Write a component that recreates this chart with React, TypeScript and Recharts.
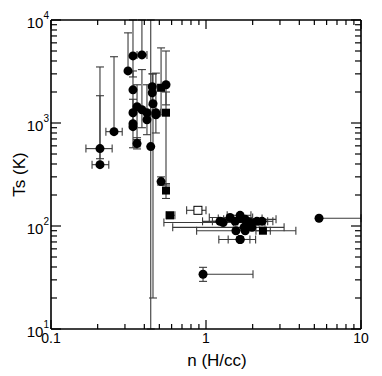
import React from 'react';
import { ScatterChart, Scatter, XAxis, YAxis, ErrorBar } from 'recharts';

type Pt = { x: number; y: number; xLo?: number; xHi?: number; yLo?: number; yHi?: number };

const xTicks = [0.1, 0.2, 0.3, 0.4, 0.5, 0.6, 0.7, 0.8, 0.9, 1, 2, 3, 4, 5, 6, 7, 8, 9, 10];
const xMajorTicks = [0.1, 1, 10];
const xMajorLabels = ['0.1', '1', '10'];
const yTicks = [10, 20, 30, 40, 50, 60, 70, 80, 90, 100, 200, 300, 400, 500, 600, 700, 800, 900, 1000, 2000, 3000, 4000, 5000, 6000, 7000, 8000, 9000, 10000];
const yMajorTicks = [10, 100, 1000, 10000];
const yMajorExponents = ['1', '2', '3', '4'];

// bounds beyond the frame are given as the frame value (10, 10000 or 10)
const filledCircles: Pt[] = [
  { x: 0.207, y: 564, xLo: 0.168, xHi: 0.248, yLo: 450, yHi: 3500 },
  { x: 0.207, y: 394, xLo: 0.184, xHi: 0.236, yLo: 394, yHi: 1840 },
  { x: 0.255, y: 824, xLo: 0.226, xHi: 0.288, yLo: 824, yHi: 4400 },
  { x: 0.314, y: 3206, yLo: 3206, yHi: 7500 },
  { x: 0.338, y: 4484, yLo: 2800, yHi: 10000 },
  { x: 0.386, y: 4583, xLo: 0.359, xHi: 0.416, yLo: 4583, yHi: 10000 },
  { x: 0.338, y: 2100, yLo: 1300, yHi: 3200 },
  { x: 0.338, y: 1259, yLo: 950, yHi: 1700 },
  { x: 0.338, y: 985 },
  { x: 0.338, y: 921, yLo: 575, yHi: 1300 },
  { x: 0.359, y: 1439, yLo: 690, yHi: 2350 },
  { x: 0.359, y: 631, xLo: 0.345, xHi: 0.375, yLo: 560, yHi: 720 },
  { x: 0.386, y: 1346, yLo: 900, yHi: 3300 },
  { x: 0.416, y: 1259, yLo: 770, yHi: 2350 },
  { x: 0.416, y: 1076 },
  { x: 0.44, y: 590, yLo: 10, yHi: 10000 },
  { x: 0.45, y: 2246, yLo: 1500, yHi: 3000 },
  { x: 0.45, y: 1965 },
  { x: 0.455, y: 1538, yLo: 20, yHi: 3000 },
  { x: 0.475, y: 1259, xLo: 0.45, xHi: 0.51, yLo: 800, yHi: 3050 },
  { x: 0.475, y: 1202 },
  { x: 0.513, y: 270, xLo: 0.5, xHi: 0.53, yLo: 250, yHi: 300 },
  { x: 0.552, y: 2349, yLo: 1500, yHi: 5000 },
  { x: 5.36, y: 119, xLo: 5.36, xHi: 10 },
  { x: 0.957, y: 34, xLo: 0.957, xHi: 2.01, yLo: 29, yHi: 39.7 },
  { x: 1.66, y: 74, xLo: 1.21, xHi: 2.09 },
  { x: 1.66, y: 74, xLo: 1.39, xHi: 1.92 },
  { x: 1.23, y: 111, xLo: 0.95, xHi: 1.6 },
  { x: 1.29, y: 108, xLo: 0.535, xHi: 2.2 },
  { x: 1.43, y: 121, xLo: 1.05, xHi: 2.0 },
  { x: 1.54, y: 111, xLo: 1.1, xHi: 2.2 },
  { x: 1.66, y: 127, xLo: 1.37, xHi: 1.95 },
  { x: 1.66, y: 118, xLo: 1.2, xHi: 2.3 },
  { x: 1.79, y: 116, xLo: 1.3, xHi: 2.83 },
  { x: 1.92, y: 108, xLo: 1.5, xHi: 2.4 },
  { x: 2.13, y: 111, xLo: 1.6, xHi: 2.5 },
  { x: 2.3, y: 111, xLo: 1.8, xHi: 2.7 },
  { x: 1.76, y: 97, xLo: 0.61, xHi: 3.19 },
  { x: 1.56, y: 90, xLo: 0.87, xHi: 3.8 },
  { x: 1.79, y: 90 },
  { x: 1.98, y: 97 },
];

const filledSquares: Pt[] = [
  { x: 0.513, y: 2198, yLo: 1200, yHi: 5360 },
  { x: 0.552, y: 1259, yLo: 250, yHi: 2000 },
  { x: 0.552, y: 221, yLo: 185, yHi: 258 },
  { x: 0.586, y: 127, xLo: 0.552, xHi: 0.63, yLo: 118, yHi: 136 },
  { x: 2.33, y: 90, xLo: 2.1, xHi: 2.6 },
];

const openSquares: Pt[] = [{ x: 0.887, y: 142, xLo: 0.75, xHi: 1.0 }];

// error offsets for Recharts' ErrorBar ([below, above] the value)
const withErr = (pts: Pt[]) =>
  pts.map((p) => ({
    ...p,
    ex: p.xLo != null && p.xHi != null ? [p.x - p.xLo, p.xHi - p.x] : undefined,
    ey: p.yLo != null && p.yHi != null ? [p.y - p.yLo, p.yHi - p.y] : undefined,
  }));

const circleData = withErr(filledCircles);
const squareData = withErr(filledSquares);
const openData = withErr(openSquares);

const FONT = 'Liberation Sans, Arial, sans-serif';
const ERR = '#3a3a3a';

const makeXTick = (side: 'bottom' | 'top') => (props: any) => {
  const { x, y, payload } = props;
  const v = payload.value;
  const idx = xMajorTicks.indexOf(v);
  const major = idx >= 0;
  const len = major ? 9 : 5;
  const dir = side === 'bottom' ? -1 : 1;
  return (
    <g>
      <line x1={x} x2={x} y1={y} y2={y + dir * len} stroke="#000" strokeWidth={1.2} />
      {side === 'bottom' && major && (
        <text x={x} y={y + 14} textAnchor="middle" fontSize={14} fontFamily={FONT} fill="#000">
          {xMajorLabels[idx]}
        </text>
      )}
    </g>
  );
};

const makeYTick = (side: 'left' | 'right') => (props: any) => {
  const { x, y, payload } = props;
  const v = payload.value;
  const idx = yMajorTicks.indexOf(v);
  const major = idx >= 0;
  const len = major ? 10 : 6;
  const dir = side === 'left' ? 1 : -1;
  return (
    <g>
      <line x1={x} x2={x + dir * len} y1={y} y2={y} stroke="#000" strokeWidth={1.2} />
      {side === 'left' && major && (
        <text x={x - 2} y={y + 8} textAnchor="end" fontSize={15} fontFamily={FONT} fill="#000">
          10
          <tspan fontSize={10} dy={-9}>{yMajorExponents[idx]}</tspan>
        </text>
      )}
    </g>
  );
};

const Circle = (props: any) => {
  const { cx, cy } = props;
  if (cx == null || cy == null) return null;
  return <circle cx={cx} cy={cy} r={4.5} fill="#000" />;
};
const Square = (props: any) => {
  const { cx, cy } = props;
  if (cx == null || cy == null) return null;
  return <rect x={cx - 4} y={cy - 4} width={8} height={8} fill="#000" />;
};
const OpenSquare = (props: any) => {
  const { cx, cy } = props;
  if (cx == null || cy == null) return null;
  return <rect x={cx - 4} y={cy - 4} width={8} height={8} fill="#fff" stroke="#000" strokeWidth={1} />;
};

const XTitle = (props: any) => {
  const vb = props.viewBox || {};
  return (
    <text x={vb.x + vb.width / 2 + 11} y={366} textAnchor="middle" fontSize={17} fontFamily={FONT} fill="#000">
      n (H/cc)
    </text>
  );
};
const YTitle = (props: any) => {
  const vb = props.viewBox || {};
  const cy = vb.y + vb.height / 2;
  return (
    <text x={25} y={cy} transform={`rotate(-90, 25, ${cy})`} textAnchor="middle" fontSize={17} fontFamily={FONT} fill="#000">
      Ts (K)
    </text>
  );
};

const axisLine = { stroke: '#000', strokeWidth: 1.6 };

export default function App() {
  return (
    <div style={{ position: 'absolute', left: 0, top: 0 }}>
      <ScatterChart width={382} height={376} margin={{ top: 0, right: 0, bottom: 0, left: 0 }}>
        <XAxis
          type="number"
          dataKey="x"
          scale="log"
          domain={[0.1, 10]}
          allowDataOverflow
          ticks={xTicks}
          interval={0}
          height={47}
          tickSize={0}
          tickMargin={0}
          tickLine={false}
          axisLine={axisLine}
          tick={makeXTick('bottom')}
          label={<XTitle />}
        />
        <XAxis
          xAxisId="top"
          orientation="top"
          type="number"
          dataKey="x"
          scale="log"
          domain={[0.1, 10]}
          allowDataOverflow
          ticks={xTicks}
          interval={0}
          height={20}
          tickSize={0}
          tickMargin={0}
          tickLine={false}
          axisLine={axisLine}
          tick={makeXTick('top')}
        />
        <YAxis
          type="number"
          dataKey="y"
          scale="log"
          domain={[10, 10000]}
          allowDataOverflow
          ticks={yTicks}
          interval={0}
          width={51}
          tickSize={0}
          tickMargin={0}
          tickLine={false}
          axisLine={axisLine}
          tick={makeYTick('left')}
          label={<YTitle />}
        />
        <YAxis
          yAxisId="right"
          orientation="right"
          type="number"
          dataKey="y"
          scale="log"
          domain={[10, 10000]}
          allowDataOverflow
          ticks={yTicks}
          interval={0}
          width={21}
          tickSize={0}
          tickMargin={0}
          tickLine={false}
          axisLine={axisLine}
          tick={makeYTick('right')}
        />
        <Scatter xAxisId="top" yAxisId="right" data={openData} shape={() => null} isAnimationActive={false} />
        <Scatter data={circleData} shape={Circle} isAnimationActive={false}>
          <ErrorBar dataKey="ex" direction="x" width={4} stroke={ERR} strokeWidth={1.1} />
          <ErrorBar dataKey="ey" direction="y" width={4} stroke={ERR} strokeWidth={1.1} />
        </Scatter>
        <Scatter data={squareData} shape={Square} isAnimationActive={false}>
          <ErrorBar dataKey="ex" direction="x" width={4} stroke={ERR} strokeWidth={1.1} />
          <ErrorBar dataKey="ey" direction="y" width={4} stroke={ERR} strokeWidth={1.1} />
        </Scatter>
        <Scatter data={openData} shape={OpenSquare} isAnimationActive={false}>
          <ErrorBar dataKey="ex" direction="x" width={4} stroke={ERR} strokeWidth={1.1} />
        </Scatter>
      </ScatterChart>
    </div>
  );
}
